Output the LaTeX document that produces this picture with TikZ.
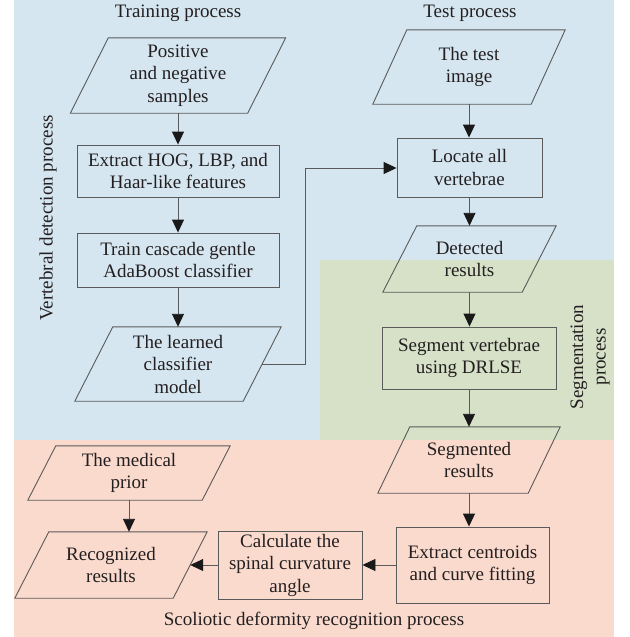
\documentclass[tikz,border=0pt]{standalone}
\usepackage{fontspec}
\setmainfont{Liberation Serif}
\usetikzlibrary{arrows.meta,calc}
\definecolor{bgblue}{RGB}{213,230,240}
\definecolor{bggreen}{RGB}{214,225,200}
\definecolor{bgpeach}{RGB}{250,218,205}
\definecolor{linegray}{RGB}{90,90,90}
\definecolor{txt}{RGB}{35,31,32}
\tikzset{
  base/.style={font=\fontsize{19}{22.5}\selectfont, text=txt, align=center, inner sep=0pt},
  procbox/.style={base, draw=linegray, line width=0.9pt},
  ioshape/.style={base},
  title/.style={font=\fontsize{19}{22.5}\selectfont, text=txt, inner sep=0pt},
  flow/.style={draw=linegray, line width=0.9pt, -{Triangle[length=13pt,width=12pt,fill=black!90,color=black!90]}},
  pgon/.style={draw=linegray, line width=0.9pt},
}
% parallelogram around named node: #1 node name, #2 half slant
\newcommand{\pgram}[2]{%
  \draw[pgon] ($(#1.north west)+(#2,0)$) -- ($(#1.north east)+(#2,0)$) -- ($(#1.south east)-(#2,0)$) -- ($(#1.south west)-(#2,0)$) -- cycle;}
\begin{document}
\begin{tikzpicture}[x=1pt,y=-1pt]
\useasboundingbox (0,0) rectangle (629,637);
% backgrounds
\fill[bgblue] (14,0) rectangle (614,440);
\fill[bggreen] (320,260) rectangle (614,440);
\fill[bgpeach] (14,440) rectangle (614,637);

% titles
\node[title] (ttrain) at (178,13) {Training process};
\node[title] (ttest) at (470,13) {Test process};
\node[title] (tscol) at (314,621) {Scoliotic deformity recognition process};
\node[title, rotate=90] (tvert) at (48,218) {Vertebral detection process};
\node[title, rotate=90, align=center] (tseg) at (590,357) {Segmentation\\process};

% training column
\node[ioshape, minimum width=177pt, minimum height=75pt] (pos) at (178,75.5) {Positive\\and negative\\samples};
\pgram{pos}{19}
\node[procbox, minimum width=202pt, minimum height=52pt] (hog) at (178,171) {Extract HOG, LBP, and\\Haar-like features};
\node[procbox, minimum width=202pt, minimum height=54pt] (train) at (178,260) {Train cascade gentle\\AdaBoost classifier};
\node[ioshape, minimum width=168pt, minimum height=74pt] (learn) at (178,364) {The learned\\classifier\\model};
\pgram{learn}{19}

% test column
\node[ioshape, minimum width=158pt, minimum height=74pt] (timg) at (469,67) {The test\\image};
\pgram{timg}{17}
\node[procbox, minimum width=145pt, minimum height=59pt] (loc) at (469.5,167.5) {Locate all\\vertebrae};
\node[ioshape, minimum width=139pt, minimum height=66pt] (det) at (469.5,259) {Detected\\results};
\pgram{det}{17}
\node[procbox, minimum width=174pt, minimum height=62pt] (seg) at (469,358) {Segment vertebrae\\using DRLSE};
\node[ioshape, minimum width=150pt, minimum height=66pt] (segd) at (469,460) {Segmented\\results};
\pgram{segd}{16}
\node[procbox, minimum width=153pt, minimum height=76pt] (cent) at (472.5,565) {Extract centroids\\and curve fitting};
\node[procbox, minimum width=144pt, minimum height=68pt] (calc) at (290,565) {Calculate the\\spinal curvature\\angle};
\node[ioshape, minimum width=174pt, minimum height=54pt] (med) at (129,473) {The medical\\prior};
\pgram{med}{14}
\node[ioshape, minimum width=158pt, minimum height=66pt] (rec) at (111,565) {Recognized\\results};
\pgram{rec}{17}

% connectors
\coordinate (bend1) at (305,364);
\coordinate (bend2) at (305,168);
\draw[flow] (pos.south) -- (hog.north);
\draw[flow] (hog.south) -- (train.north);
\draw[flow] (train.south) -- (learn.north);
\draw[flow] (learn.east) -- (bend1) -- (bend2) -- (bend2 -| loc.west);
\draw[flow] (timg.south) -- (timg.south |- loc.north);
\draw[flow] (loc.south) -- (loc.south |- det.north);
\draw[flow] (det.south) -- (det.south |- seg.north);
\draw[flow] (seg.south) -- (seg.south |- segd.north);
\draw[flow] (segd.south) -- (segd.south |- cent.north);
\draw[flow] (cent.west) -- (calc.east);
\draw[flow] (calc.west) -- (rec.east);
\draw[flow] (med.south) -- (med.south |- rec.north);
\end{tikzpicture}
\end{document}
